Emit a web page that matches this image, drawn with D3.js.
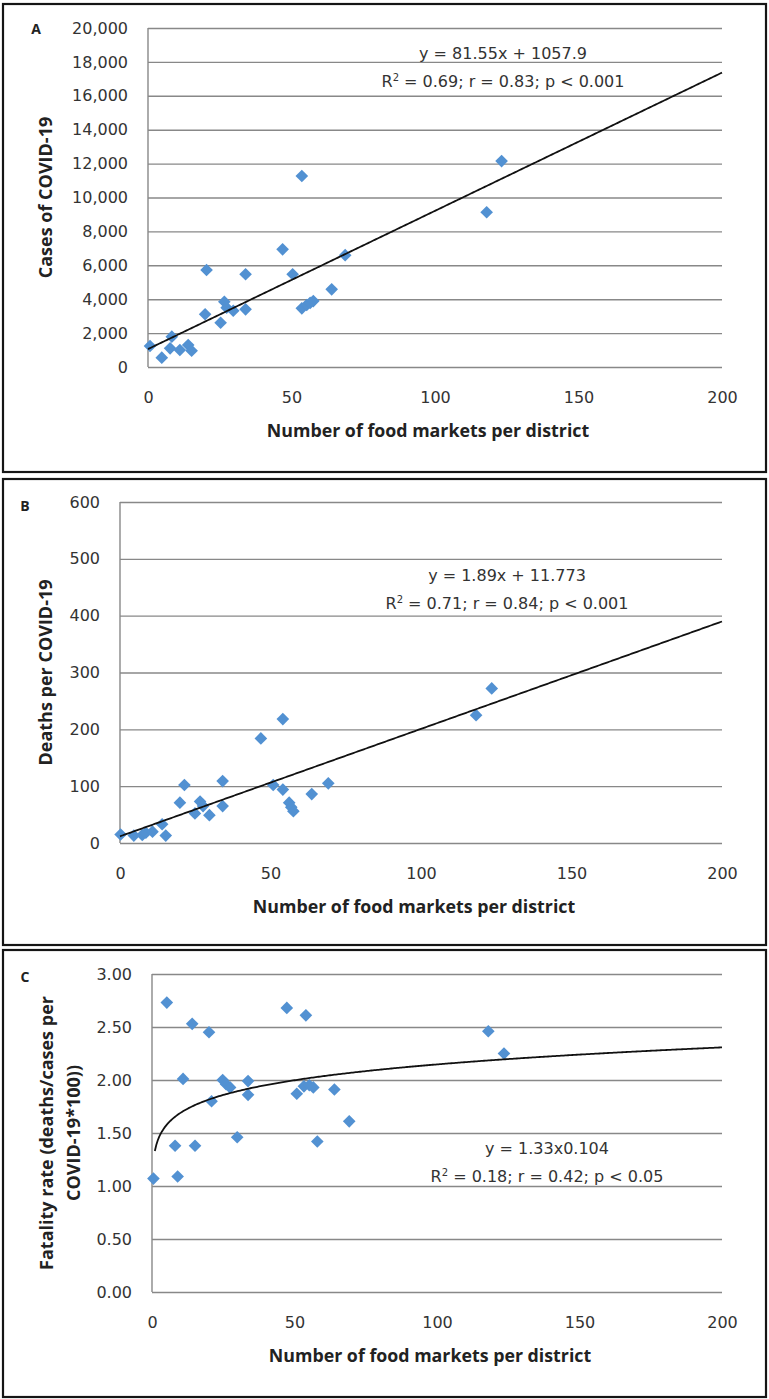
<!DOCTYPE html>
<html>
<head>
<meta charset="utf-8">
<script src="https://cdn.jsdelivr.net/npm/d3@7"></script>
<style>
  body { margin: 0; background: #fff; }
  text { font-family: "Open Sans", sans-serif; fill: #222; }
</style>
</head>
<body>
<svg id="chart" width="769" height="1399"></svg>
<script>
// --- data ---
const marketTicks = [0, 50, 100, 150, 200];

const casesMarkets = [0.7, 4.8, 7.7, 8.3, 11.1, 14.0, 15.2, 19.9, 20.4, 25.3, 26.6, 27.4, 29.7, 34.0, 34.0,
  46.9, 50.4, 53.6, 53.6, 55.3, 56.5, 57.6, 64.0, 68.7, 118.0, 123.2];
const cases = [1240, 550, 1100, 1790, 1000, 1300, 960, 3110, 5720, 2610, 3850, 3500, 3320, 5470, 3400,
  6940, 5470, 11270, 3460, 3660, 3780, 3890, 4580, 6600, 9130, 12150];
const casesTicks = [0, 2000, 4000, 6000, 8000, 10000, 12000, 14000, 16000, 18000, 20000];

const deathsMarkets = [0.2, 4.6, 7.4, 8.6, 10.8, 14.0, 15.2, 19.9, 21.4, 24.9, 26.6, 27.6, 29.7, 34.1, 34.1,
  46.8, 50.9, 54.1, 54.1, 56.2, 56.9, 57.6, 63.7, 69.2, 118.3, 123.5];
const deaths = [15, 13, 14, 18, 20, 33, 13, 71, 102, 52, 73, 65, 49, 109, 65,
  184, 102, 218, 94, 71, 63, 56, 86, 105, 225, 272];
const deathsTicks = [0, 100, 200, 300, 400, 500, 600];

const fatalityMarkets = [0.5, 5.2, 8.1, 9.0, 10.9, 14.1, 15.1, 20.0, 20.9, 24.8, 26.0, 27.4, 29.9, 33.7, 33.7,
  47.3, 50.8, 53.3, 54.0, 55.2, 56.6, 58.0, 64.0, 69.2, 118.0, 123.5];
const fatality = [1.07, 2.73, 1.38, 1.09, 2.01, 2.53, 1.38, 2.45, 1.80, 2.00, 1.96, 1.93, 1.46, 1.99, 1.86,
  2.68, 1.87, 1.94, 2.61, 1.95, 1.93, 1.42, 1.91, 1.61, 2.46, 2.25];
const fatalityTicks = [0, 0.5, 1, 1.5, 2, 2.5, 3];

const xTitle = "Number of food markets per district";

// trend equations printed on the chart
const fitA = x => 81.55 * x + 1057.9;
const fitB = x => 1.89 * x + 11.773;
const fitC = x => 1.33 * Math.pow(x, 0.104);

const panels = [
  { tag: "A", xs: casesMarkets, ys: cases, ticks: casesTicks, fmt: d3.format(","),
    box: [3, 4, 763, 468], plot: [148, 722, 28, 367], fit: fitA, fitFrom: 0,
    yTitle: ["Cases of COVID-19"], eq: ["y = 81.55x + 1057.9", "0.69; r = 0.83; p < 0.001"], eqX: 503, eqY: 53 },
  { tag: "B", xs: deathsMarkets, ys: deaths, ticks: deathsTicks, fmt: d3.format("d"),
    box: [3, 479, 763, 466], plot: [120, 722, 502, 843], fit: fitB, fitFrom: 0,
    yTitle: ["Deaths per COVID-19"], eq: ["y = 1.89x + 11.773", "0.71; r = 0.84; p < 0.001"], eqX: 507, eqY: 575 },
  { tag: "C", xs: fatalityMarkets, ys: fatality, ticks: fatalityTicks, fmt: d3.format(".2f"),
    box: [3, 950, 763, 447], plot: [152, 722, 974, 1292], fit: fitC, fitFrom: 1,
    yTitle: ["Fatality rate (deaths/cases per", "COVID-19*100))"], eq: ["y = 1.33x0.104", "0.18; r = 0.42; p < 0.05"], eqX: 547, eqY: 1148 }
];

const svg = d3.select("#chart");
const gridColor = "#888";
const markerColor = "#5291d2";
const labelFont = "'DejaVu Sans', sans-serif";
const diamond = d3.symbol().type(d3.symbolSquare).size(80);

panels.forEach(p => {
  const [x0, x1, y0, y1] = p.plot;
  const x = d3.scaleLinear().domain([0, 200]).range([x0, x1]);
  const y = d3.scaleLinear().domain([0, d3.max(p.ticks)]).range([y1, y0]);

  // frame
  svg.append("rect")
    .attr("x", p.box[0]).attr("y", p.box[1])
    .attr("width", p.box[2]).attr("height", p.box[3])
    .attr("fill", "none").attr("stroke", "#151515").attr("stroke-width", 2.2);

  // gridlines + y labels
  const gy = svg.append("g")
    .attr("transform", `translate(${x0},0)`)
    .call(d3.axisLeft(y).tickValues(p.ticks).tickFormat(p.fmt).tickSize(-(x1 - x0)).tickPadding(20));
  gy.select(".domain").remove();
  gy.selectAll(".tick line").attr("stroke", gridColor).attr("stroke-width", 1.4);
  gy.selectAll(".tick text").style("font-family", labelFont).attr("font-size", 16).style("fill", "#333");

  svg.append("line")
    .attr("x1", x0).attr("x2", x0).attr("y1", y0).attr("y2", y1)
    .attr("stroke", gridColor).attr("stroke-width", 1.4);

  // x labels
  const gx = svg.append("g")
    .attr("transform", `translate(0,${y1})`)
    .call(d3.axisBottom(x).tickValues(marketTicks).tickSize(0));
  gx.select(".domain").remove();
  gx.selectAll(".tick text")
    .attr("y", 30).attr("dy", "0.35em")
    .style("font-family", labelFont).attr("font-size", 16).style("fill", "#333");

  svg.append("text")
    .attr("x", (x0 + x1) / 2 - 7).attr("y", y1 + 64).attr("dy", "0.35em")
    .attr("text-anchor", "middle").attr("font-size", 17.8).attr("font-weight", "bold")
    .text(xTitle);

  // y title
  const yt = svg.append("text")
    .attr("transform", `translate(${p.yTitle.length > 1 ? 46 : 45},${(y0 + y1) / 2}) rotate(-90)`)
    .attr("text-anchor", "middle").attr("font-size", 18).attr("font-weight", "bold");
  p.yTitle.forEach((t, i) => yt.append("tspan").attr("x", 0).attr("dy", i ? 27 : 0).attr("dominant-baseline", "central").text(t));

  // panel tag
  svg.append("text")
    .attr("x", p.tag === "A" ? 36 : 25).attr("y", p.tag === "A" ? 29 : p.box[1] + 27)
    .attr("dy", "0.35em").attr("text-anchor", "middle")
    .attr("font-size", 14).attr("font-weight", "bold").text(p.tag);

  // points
  svg.append("g").selectAll("path")
    .data(p.xs.map((v, i) => [v, p.ys[i]]))
    .join("path")
    .attr("d", diamond)
    .attr("transform", d => `translate(${x(d[0])},${y(d[1])}) rotate(45)`)
    .attr("fill", markerColor);

  // trend line
  const fx = d3.range(p.fitFrom, 200.5, 0.5);
  svg.append("path")
    .datum(fx)
    .attr("d", d3.line().x(d => x(d)).y(d => y(p.fit(d))))
    .attr("fill", "none").attr("stroke", "#111").attr("stroke-width", 1.8);

  // equation
  svg.append("text")
    .attr("x", p.eqX).attr("y", p.eqY).attr("dy", "0.35em")
    .attr("text-anchor", "middle").style("font-family", labelFont).attr("font-size", 16).style("fill", "#333")
    .text(p.eq[0]);
  const r2 = svg.append("text")
    .attr("x", p.eqX).attr("y", p.eqY + 28).attr("dy", "0.35em")
    .attr("text-anchor", "middle").style("font-family", labelFont).attr("font-size", 16).style("fill", "#333");
  r2.append("tspan").text("R");
  r2.append("tspan").attr("font-size", 10).attr("dy", -6).text("2");
  r2.append("tspan").attr("dy", 6).text(" = " + p.eq[1]);
});
</script>
</body>
</html>
